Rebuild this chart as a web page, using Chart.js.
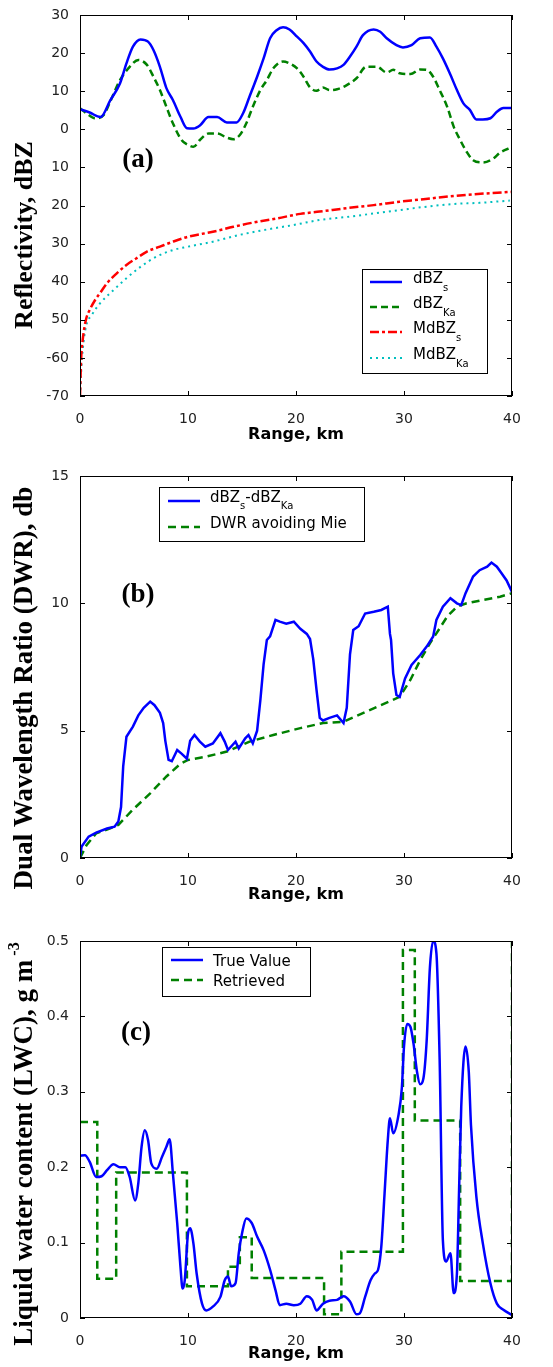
<!DOCTYPE html>
<html>
<head>
<meta charset="utf-8">
<script src="https://cdn.jsdelivr.net/npm/chart.js@4.4.0/dist/chart.umd.min.js"></script>
<style>
  body { margin: 0; background: #fff; width: 553px; height: 1367px; position: relative; overflow: hidden; }
  canvas { position: absolute; left: 0; }
</style>
</head>
<body>
<canvas id="reflectivity" width="553" height="450" style="top:0px"></canvas>
<canvas id="dwr" width="553" height="460" style="top:450px"></canvas>
<canvas id="lwc" width="553" height="457" style="top:910px"></canvas>
<script>
// ---- shared x axis (range, km)
var xTickLabels = ['0', '10', '20', '30', '40'];

// ---- panel (a): reflectivity, dBZ
var aTickLabels = ['-70', '-60', '50', '40', '30', '20', '10', '0', '10', '20', '30'];
var rangeS = [0, 0.9, 1.9, 2.8, 3.7, 4.3, 4.9, 5.6, 6.3, 6.8, 7.4, 8.0, 8.6, 9.3, 9.9, 10.5, 11.1, 11.9, 12.7, 13.6, 14.5, 15.1, 15.7, 16.4, 17.0, 17.6, 18.2, 18.8, 19.4, 20.1, 20.7, 21.3, 21.9, 22.5, 23.1, 23.8, 24.4, 25.0, 25.6, 26.2, 27.2, 27.8, 28.4, 29.3, 29.9, 30.7, 31.5, 32.4, 33.0, 33.6, 34.3, 34.9, 35.5, 36.1, 36.7, 37.3, 38.0, 38.6, 39.2, 40];
var dbzS = [5.3, 4.4, 3.2, 7.6, 12.0, 17.3, 21.7, 23.6, 23.0, 20.8, 16.4, 10.8, 7.7, 3.3, 0.3, 0.2, 1.0, 3.2, 3.2, 1.8, 1.8, 4.2, 8.6, 13.8, 18.6, 23.9, 26.0, 26.8, 26.2, 24.3, 22.6, 20.4, 17.8, 16.4, 15.7, 16.0, 16.9, 19.1, 21.7, 24.7, 26.2, 25.6, 23.9, 22.1, 21.5, 22.1, 23.9, 24.1, 21.7, 18.6, 14.3, 10.3, 6.8, 5.1, 2.6, 2.6, 2.9, 4.6, 5.6, 5.6];
var rangeKa = [0, 0.6, 1.4, 2.2, 2.8, 3.7, 4.6, 5.4, 6.2, 6.8, 7.4, 8.0, 8.6, 9.4, 10.0, 10.5, 11.1, 11.9, 12.7, 13.6, 14.2, 14.8, 15.4, 16.0, 16.7, 17.3, 17.9, 18.8, 19.4, 20.1, 20.7, 21.3, 21.9, 22.5, 23.1, 23.8, 24.7, 25.6, 26.5, 27.5, 28.4, 29.0, 29.6, 30.6, 31.5, 32.1, 32.7, 33.3, 34.0, 34.6, 35.2, 35.8, 36.4, 37.3, 38.3, 38.9, 40];
var dbzKa = [5.5, 4.2, 2.9, 3.8, 7.3, 12.9, 16.4, 18.2, 16.9, 13.8, 10.3, 5.9, 1.6, -2.8, -4.1, -4.6, -2.8, -1.1, -1.1, -2.2, -2.6, -1.5, 1.6, 5.9, 10.3, 12.9, 16.0, 17.8, 17.3, 16.0, 13.8, 11.0, 10.1, 11.0, 10.3, 10.5, 11.6, 13.4, 16.4, 16.4, 14.9, 15.6, 14.7, 14.5, 15.7, 15.6, 13.8, 10.3, 5.9, 0.7, -2.8, -5.9, -8.1, -8.7, -7.6, -6.1, -4.7];
var rangeMs = [0, 0.1, 0.25, 0.55, 0.9, 1.4, 1.85, 2.5, 3.4, 4.3, 5.2, 6.2, 7.4, 8.6, 10, 12.3, 14.2, 16, 18.2, 20.4, 22.2, 24.7, 27.2, 29.6, 30.9, 35.8, 40];
var mdbzS = [-70, -60.6, -55.3, -50, -47.4, -44.8, -43, -40.4, -37.8, -35.6, -33.9, -32.1, -30.8, -29.5, -28.2, -26.9, -25.6, -24.5, -23.4, -22.2, -21.6, -20.7, -19.9, -19, -18.6, -17.2, -16.4];
var rangeMka = [0, 0.1, 0.25, 0.55, 1.1, 1.85, 3.1, 4.3, 5.6, 7.1, 8.6, 10, 12.3, 14.8, 17.3, 19.8, 22.2, 24.7, 27.2, 29.6, 32.1, 34.6, 37.0, 39.8];
var mdbzKa = [-70, -64, -58, -51.8, -48.7, -45.7, -42.2, -39.1, -36.1, -33.4, -31.7, -30.8, -29.5, -27.7, -26.3, -25.1, -23.8, -23, -22.1, -21.2, -20.3, -19.6, -19.3, -18.7];

// ---- panel (b): dual wavelength ratio, db
var bTickLabels = ['0', '5', '10', '15'];
var rangeDwr = [0, 0.15, 0.8, 1.5, 2.5, 3.2, 3.55, 3.8, 4.0, 4.3, 4.9, 5.4, 5.9, 6.5, 6.9, 7.4, 7.7, 7.9, 8.2, 8.5, 9.0, 9.4, 9.9, 10.2, 10.6, 11.1, 11.6, 12.3, 13.0, 13.4, 13.7, 14.4, 14.7, 15.3, 15.6, 16.0, 16.4, 16.7, 17.0, 17.3, 17.6, 18.1, 18.5, 19.1, 19.8, 20.4, 21.0, 21.3, 21.6, 21.9, 22.2, 22.5, 23.1, 23.8, 24.4, 24.7, 25.0, 25.3, 25.8, 26.4, 27.2, 27.9, 28.5, 28.7, 28.8, 29.0, 29.3, 29.6, 30.1, 30.7, 31.5, 32.1, 32.7, 33.0, 33.6, 34.3, 34.9, 35.3, 35.7, 36.4, 37.0, 37.7, 38.1, 38.6, 39.0, 39.5, 40];
var dwr = [0.05, 0.45, 0.84, 1.0, 1.16, 1.23, 1.43, 2.0, 3.6, 4.76, 5.16, 5.6, 5.9, 6.14, 6.0, 5.7, 5.3, 4.6, 3.85, 3.8, 4.24, 4.1, 3.9, 4.6, 4.83, 4.57, 4.37, 4.5, 4.9, 4.57, 4.24, 4.57, 4.3, 4.7, 4.83, 4.5, 5.0, 6.2, 7.6, 8.56, 8.7, 9.35, 9.28, 9.2, 9.28, 9.0, 8.8, 8.6, 7.8, 6.6, 5.5, 5.4, 5.5, 5.6, 5.3, 5.9, 8.0, 8.95, 9.1, 9.6, 9.67, 9.74, 9.87, 8.8, 8.56, 7.25, 6.4, 6.33, 7.05, 7.58, 7.97, 8.3, 8.7, 9.35, 9.87, 10.2, 10.0, 9.93, 10.4, 11.05, 11.3, 11.44, 11.6, 11.44, 11.2, 10.9, 10.45];
var rangeMie = [0, 0.6, 1.5, 2.8, 3.55, 4.9, 6.5, 8.0, 9.3, 10.0, 11.7, 13.6, 15.7, 17.9, 20.4, 22.5, 24.4, 26.5, 29.6, 30.6, 31.5, 32.4, 33.0, 34.0, 34.9, 35.8, 37.3, 38.9, 40];
var dwrMie = [0, 0.5, 0.97, 1.16, 1.3, 1.9, 2.54, 3.2, 3.7, 3.85, 3.98, 4.18, 4.57, 4.83, 5.1, 5.3, 5.35, 5.75, 6.33, 7.0, 7.77, 8.43, 8.82, 9.48, 9.87, 10.0, 10.13, 10.26, 10.4];

// ---- panel (c): liquid water content, g m-3
var cTickLabels = ['0', '0.1', '0.2', '0.3', '0.4', '0.5'];
var rangeLwc = [0, 0.46, 0.9, 1.5, 2.0, 2.5, 3.1, 3.7, 4.2, 4.6, 5.1, 5.4, 5.7, 6.0, 6.3, 6.6, 7.1, 7.6, 8.0, 8.3, 8.6, 9.0, 9.3, 9.5, 9.7, 10.0, 10.2, 10.5, 10.8, 11.3, 11.7, 12.3, 13.0, 13.4, 13.7, 14.0, 14.4, 14.7, 15.0, 15.4, 15.9, 16.4, 17.0, 17.6, 18.1, 18.5, 19.1, 19.8, 20.4, 21.0, 21.5, 21.9, 22.5, 23.1, 23.8, 24.4, 25.0, 25.6, 25.9, 26.4, 26.9, 27.3, 27.6, 27.9, 28.2, 28.5, 28.7, 29.0, 29.5, 29.8, 30.0, 30.3, 30.6, 30.9, 31.2, 31.5, 31.8, 32.1, 32.4, 32.7, 33.0, 33.3, 33.6, 33.9, 34.3, 34.6, 34.9, 35.1, 35.3, 35.7, 36.0, 36.2, 36.7, 37.3, 38.0, 38.6, 39.2, 40];
var lwcTrue = [0.215, 0.216, 0.207, 0.187, 0.188, 0.196, 0.204, 0.2, 0.2, 0.187, 0.156, 0.179, 0.227, 0.249, 0.236, 0.205, 0.198, 0.214, 0.227, 0.237, 0.192, 0.126, 0.068, 0.039, 0.05, 0.112, 0.119, 0.099, 0.059, 0.019, 0.01, 0.015, 0.028, 0.05, 0.055, 0.042, 0.046, 0.086, 0.112, 0.132, 0.126, 0.108, 0.09, 0.064, 0.037, 0.017, 0.019, 0.017, 0.019, 0.029, 0.024, 0.01, 0.019, 0.023, 0.024, 0.029, 0.022, 0.005, 0.006, 0.028, 0.05, 0.059, 0.064, 0.095, 0.165, 0.236, 0.265, 0.245, 0.27, 0.305, 0.36, 0.39, 0.386, 0.362, 0.327, 0.31, 0.318, 0.368, 0.465, 0.5, 0.484, 0.343, 0.103, 0.075, 0.086, 0.033, 0.059, 0.17, 0.28, 0.36, 0.326, 0.256, 0.161, 0.099, 0.046, 0.019, 0.011, 0.004];
var rangeStep = [0, 1.6, 3.35, 9.9, 13.7, 14.8, 15.9, 22.6, 24.2, 29.9, 31.0, 35.2, 40];
var lwcRetrieved = [0.26, 0.052, 0.193, 0.042, 0.068, 0.107, 0.053, 0.005, 0.088, 0.488, 0.262, 0.049, 0.5];

Chart.defaults.font.family = '"DejaVu Sans", sans-serif';
Chart.defaults.font.size = 14;
Chart.defaults.color = '#222';

var BLUE = 'rgb(0, 0, 255)';
var GREEN = 'rgb(0, 128, 0)';
var RED = 'rgb(255, 0, 0)';
var CYAN = 'rgb(0, 191, 191)';

function pts(xs, ys) {
  return xs.map(function (x, i) { return { x: x, y: ys[i] }; });
}

// matlab style box with inward ticks on all four sides
var frame = {
  id: 'frame',
  afterDatasetsDraw: function (chart) {
    var ctx = chart.ctx, a = chart.chartArea;
    var xs = chart.scales.x, ys = chart.scales.y;
    ctx.save();
    ctx.strokeStyle = '#000';
    ctx.lineWidth = 1;
    ctx.strokeRect(a.left + 0.5, a.top + 0.5, a.right - a.left - 1, a.bottom - a.top - 1);
    ctx.beginPath();
    xs.ticks.forEach(function (t) {
      var px = Math.round(xs.getPixelForValue(t.value)) + 0.5;
      ctx.moveTo(px, a.bottom); ctx.lineTo(px, a.bottom - 5);
      ctx.moveTo(px, a.top); ctx.lineTo(px, a.top + 5);
    });
    ys.ticks.forEach(function (t) {
      var py = Math.round(ys.getPixelForValue(t.value)) + 0.5;
      ctx.moveTo(a.left, py); ctx.lineTo(a.left + 5, py);
      ctx.moveTo(a.right, py); ctx.lineTo(a.right - 5, py);
    });
    ctx.stroke();
    ctx.restore();
  }
};

function drawParts(ctx, parts, x, y, size, subSize, subDrop) {
  parts.forEach(function (p) {
    ctx.font = (p[1] ? subSize : size) + 'px "DejaVu Sans"';
    ctx.fillText(p[0], x, p[1] ? y + subDrop : y);
    x += ctx.measureText(p[0]).width;
  });
}

// titles, panel tag and boxed legend
var annotate = {
  id: 'annotate',
  afterDraw: function (chart) {
    var o = chart.options.plugins.annotate;
    var ctx = chart.ctx;
    ctx.save();
    ctx.fillStyle = '#000';

    // x title
    ctx.font = 'bold 16px "DejaVu Sans"';
    ctx.textAlign = 'center';
    ctx.textBaseline = 'alphabetic';
    ctx.fillText('Range, km', 296, o.xTitleY);

    // panel tag
    ctx.font = 'bold 27px "Liberation Serif"';
    ctx.textBaseline = 'middle';
    ctx.fillText(o.tag[0], o.tag[1], o.tag[2]);

    // rotated y title
    ctx.save();
    ctx.translate(32, o.yCenter);
    ctx.rotate(-Math.PI / 2);
    ctx.textBaseline = 'alphabetic';
    ctx.textAlign = 'left';
    var main = 'bold ' + o.yFont + 'px "Liberation Serif"';
    var sup = 'bold 16px "Liberation Serif"';
    ctx.font = main;
    var w = ctx.measureText(o.yTitle).width;
    var ws = 0;
    if (o.ySup) { ctx.font = sup; ws = ctx.measureText(o.ySup).width; }
    var x0 = -(w + ws) / 2;
    ctx.font = main;
    ctx.fillText(o.yTitle, x0, 0);
    if (o.ySup) { ctx.font = sup; ctx.fillText(o.ySup, x0 + w, -13); }
    ctx.restore();

    // legend
    var L = o.legend;
    ctx.fillStyle = '#fff';
    ctx.fillRect(L.box[0], L.box[1], L.box[2] - L.box[0], L.box[3] - L.box[1]);
    ctx.strokeStyle = '#000';
    ctx.lineWidth = 1;
    ctx.strokeRect(L.box[0] + 0.5, L.box[1] + 0.5, L.box[2] - L.box[0], L.box[3] - L.box[1]);
    ctx.textAlign = 'left';
    ctx.textBaseline = 'alphabetic';
    L.rows.forEach(function (r, i) {
      var ds = chart.data.datasets[i];
      ctx.save();
      ctx.strokeStyle = ds.borderColor;
      ctx.lineWidth = ds.borderWidth;
      ctx.setLineDash(ds.borderDash || []);
      ctx.beginPath();
      ctx.moveTo(L.sample[0], r.y);
      ctx.lineTo(L.sample[1], r.y);
      ctx.stroke();
      ctx.restore();
      ctx.fillStyle = '#000';
      drawParts(ctx, r.parts, L.textX, r.y + L.dy, 15, 10, L.subDrop);
    });
    ctx.restore();
  }
};

function panel(id, datasets, yMin, yMax, yStep, yLabels, xAxisHeight, padTop, annotateOpts) {
  return new Chart(document.getElementById(id), {
    type: 'line',
    data: { datasets: datasets },
    options: {
      responsive: false,
      animation: false,
      layout: { padding: { left: 0, right: 41, top: padTop, bottom: 0 } },
      elements: { point: { radius: 0 } },
      scales: {
        x: {
          type: 'linear', min: 0, max: 40,
          grid: { display: false }, border: { display: false },
          ticks: { stepSize: 10, padding: 7, maxRotation: 0,
            callback: function (v, i) { return xTickLabels[i]; } },
          afterFit: function (s) { s.height = xAxisHeight; }
        },
        y: {
          type: 'linear', min: yMin, max: yMax,
          grid: { display: false }, border: { display: false },
          ticks: { stepSize: yStep, padding: 3,
            callback: function (v, i) { return yLabels[i]; } },
          afterFit: function (s) { s.width = 80; }
        }
      },
      plugins: {
        legend: { display: false },
        tooltip: { enabled: false },
        annotate: annotateOpts
      }
    },
    plugins: [frame, annotate]
  });
}

// (a)
panel('reflectivity', [
  { data: pts(rangeS, dbzS), borderColor: BLUE, borderWidth: 2.5, cubicInterpolationMode: 'monotone' },
  { data: pts(rangeKa, dbzKa), borderColor: GREEN, borderWidth: 2.5, borderDash: [7, 4], cubicInterpolationMode: 'monotone' },
  { data: pts(rangeMs, mdbzS), borderColor: RED, borderWidth: 2.5, borderDash: [9, 3, 3, 3], cubicInterpolationMode: 'monotone' },
  { data: pts(rangeMka, mdbzKa), borderColor: CYAN, borderWidth: 2, borderDash: [2, 4], cubicInterpolationMode: 'monotone' }
], -70, 30, 10, aTickLabels, 54, 15, {
  xTitleY: 439, tag: ['(a)', 138, 160],
  yTitle: 'Reflectivity, dBZ', yFont: 26, yCenter: 235,
  legend: {
    box: [362, 269, 487, 373], sample: [370, 402], textX: 413, dy: 1, subDrop: 8,
    rows: [
      { y: 282, parts: [['dBZ'], ['s', true]] },
      { y: 307, parts: [['dBZ'], ['Ka', true]] },
      { y: 332, parts: [['MdBZ'], ['s', true]] },
      { y: 358, parts: [['MdBZ'], ['Ka', true]] }
    ]
  }
});

// (b)
panel('dwr', [
  { data: pts(rangeDwr, dwr), borderColor: BLUE, borderWidth: 2.5 },
  { data: pts(rangeMie, dwrMie), borderColor: GREEN, borderWidth: 2.5, borderDash: [8, 5] }
], 0, 15, 5, bTickLabels, 52, 26, {
  xTitleY: 449, tag: ['(b)', 138, 145],
  yTitle: 'Dual Wavelength Ratio (DWR), db', yFont: 27, yCenter: 238,
  legend: {
    box: [159, 37, 364, 91], sample: [168, 200], textX: 210, dy: 1, subDrop: 7,
    rows: [
      { y: 51, parts: [['dBZ'], ['s', true], ['-dBZ'], ['Ka', true]] },
      { y: 77, parts: [['DWR avoiding Mie']] }
    ]
  }
});

// (c)
panel('lwc', [
  { data: pts(rangeLwc, lwcTrue), borderColor: BLUE, borderWidth: 2.5, cubicInterpolationMode: 'monotone' },
  { data: pts(rangeStep, lwcRetrieved), borderColor: GREEN, borderWidth: 2.5, borderDash: [8, 5], stepped: 'before' }
], 0, 0.5, 0.1, cTickLabels, 49, 31, {
  xTitleY: 448, tag: ['(c)', 136, 123],
  yTitle: 'Liquid water content (LWC), g m', ySup: ' -3', yFont: 27, yCenter: 234,
  legend: {
    box: [162, 37, 310, 86], sample: [171, 203], textX: 213, dy: 6, subDrop: 7,
    rows: [
      { y: 50, parts: [['True Value']] },
      { y: 70, parts: [['Retrieved']] }
    ]
  }
});
</script>
</body>
</html>
